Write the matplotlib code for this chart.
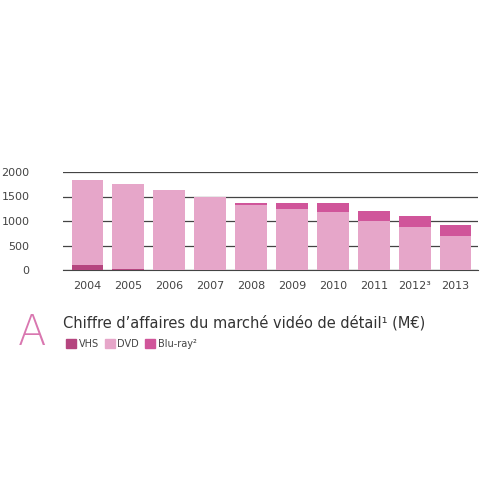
import matplotlib.pyplot as plt
from matplotlib.patches import Patch

years = ['2004', '2005', '2006', '2007', '2008', '2009', '2010', '2011', '2012³', '2013']
vhs = [100, 20, 0, 0, 0, 0, 0, 0, 0, 0]
dvd = [1740, 1730, 1630, 1480, 1320, 1245, 1190, 1000, 870, 695]
bluray = [0, 0, 0, 0, 55, 130, 185, 210, 230, 215]

c_vhs = '#b5457f'
c_dvd = '#e6a6c9'
c_br = '#d0559a'

fig = plt.figure(figsize=(5, 5), dpi=100)
ax = fig.add_axes([0.126, 0.46, 0.83, 0.196])

x = range(len(years))
ax.bar(x, vhs, width=0.78, color=c_vhs, zorder=3)
ax.bar(x, dvd, width=0.78, bottom=vhs, color=c_dvd, zorder=3)
bot = [a + b for a, b in zip(vhs, dvd)]
ax.bar(x, bluray, width=0.78, bottom=bot, color=c_br, zorder=3)

ax.set_ylim(0, 2000)
ax.set_xlim(-0.6, len(years) - 0.45)
ax.set_yticks([0, 500, 1000, 1500, 2000])
ax.set_yticklabels(['0', '500', '1000', '1500', '2000'])
ax.set_xticks(list(x))
ax.set_xticklabels(years)
ax.grid(axis='y', color='#444444', linewidth=0.9, zorder=0)
for s in ['top', 'right', 'left']:
    ax.spines[s].set_visible(False)
ax.spines['bottom'].set_color('#444444')
ax.tick_params(length=0, labelsize=8, colors='#444444', pad=8)
ax.tick_params(axis='y', pad=24)

fig.text(0.035, 0.31, 'A', fontsize=30, color='#d977b0', fontweight='light')
fig.text(0.126, 0.345, "Chiffre d’affaires du marché vidéo de détail¹ (M€)",
         fontsize=10.5, color='#333333')
handles = [Patch(color=c_vhs, label='VHS'), Patch(color=c_dvd, label='DVD'),
           Patch(color=c_br, label='Blu-ray²')]
fig.legend(handles=handles, loc='upper left', bbox_to_anchor=(0.115, 0.34),
           ncol=3, frameon=False, fontsize=7, handlelength=1, handleheight=1,
           handletextpad=0.3, columnspacing=0.6, labelcolor='#444444')

fig.savefig('out.png')
